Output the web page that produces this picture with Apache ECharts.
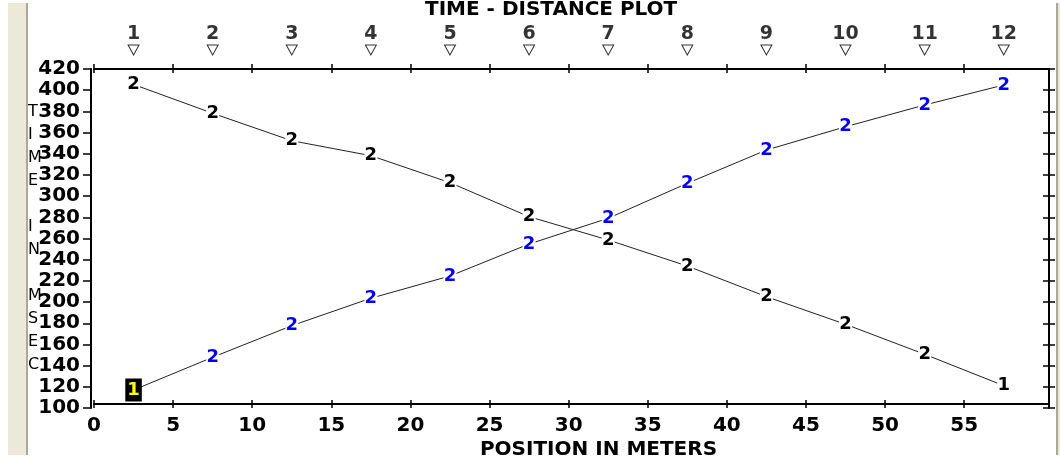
<!DOCTYPE html>
<html>
<head>
<meta charset="utf-8">
<script src="https://cdn.jsdelivr.net/npm/echarts@6/dist/echarts.min.js"></script>
<style>
  html, body { margin: 0; background: #fff; }
  #chart { width: 1060px; height: 466px; }
</style>
</head>
<body>
<div id="chart"></div>
<script>
// 测点位置 (m)
var positions = [2.5, 7.5, 12.5, 17.5, 22.5, 27.5, 32.5, 37.5, 42.5, 47.5, 52.5, 57.5];
// 顶部测点编号
var stations = ["1", "2", "3", "4", "5", "6", "7", "8", "9", "10", "11", "12"];
// X 轴刻度
var xTicks = [0, 5, 10, 15, 20, 25, 30, 35, 40, 45, 50, 55];
// 正向激发 (蓝色) 时间 msec
var forwardTimes = [117.0, 147.9, 177.7, 203.6, 224.6, 254.8, 279.1, 312.1, 343.5, 365.5, 386.0, 404.9];
var forwardMarks = ["1", "2", "2", "2", "2", "2", "2", "2", "2", "2", "2", "2"];
// 反向激发 (黑色) 时间 msec
var reverseTimes = [405.4, 378.2, 352.3, 338.2, 312.7, 280.6, 258.6, 234.0, 205.1, 179.0, 150.7, 121.1];
var reverseMarks = ["2", "2", "2", "2", "2", "2", "2", "2", "2", "2", "2", "1"];

var FONT = "DejaVu Sans";
var X_MAX = 60.36;

function buildPoints(times, marks, color, boxFirst) {
  return times.map(function (t, i) {
    var item = {
      value: [positions[i], t],
      label: { formatter: marks[i], color: marks[i] === "1" ? "#000" : color },
    };
    if (boxFirst && i === 0) {
      item.label = {
        formatter: marks[i],
        color: "#ffff00",
        backgroundColor: "#000",
        padding: [3, 2, 2, 2],
      };
    }
    return item;
  });
}

var myChart = echarts.init(document.getElementById("chart"));

var lineSeries = function (times, marks, color, boxFirst) {
  return {
    type: "line",
    xAxisIndex: 0,
    yAxisIndex: 0,
    data: buildPoints(times, marks, color, boxFirst),
    symbol: "rect",
    symbolSize: [13, 15],
    itemStyle: { color: "#fff" },
    lineStyle: { color: "#222", width: 1 },
    label: {
      show: true,
      position: "inside",
      fontFamily: FONT,
      fontWeight: "bold",
      fontSize: 18,
    },
    emphasis: { disabled: true },
    z: 3,
  };
};

// 坐标轴刻度 (内外两侧)
var tickAxisX = function (pos, inside, len, withLine) {
  return {
    type: "value",
    gridIndex: 0,
    position: pos,
    offset: pos === "bottom" ? -4 : 0,
    min: 0,
    max: X_MAX,
    interval: 5,
    splitLine: { show: false },
    axisLine: { show: withLine, onZero: false, lineStyle: { color: "#000", width: 2 } },
    axisTick: { inside: inside, length: len, customValues: xTicks, lineStyle: { color: "#000", width: 1.5 } },
    axisLabel: { show: false },
  };
};

var option = {
  animation: false,
  backgroundColor: "#fff",
  title: {
    text: "TIME - DISTANCE PLOT",
    left: 425,
    top: 0,
    padding: 0,
    textStyle: { fontFamily: FONT, fontWeight: "bold", fontSize: 20, color: "#000" },
  },
  graphic: [
    { type: "rect", shape: { x: 8, y: 3, width: 18, height: 452 }, style: { fill: "#ece9d8" }, z: 0 },
    { type: "rect", shape: { x: 26, y: 3, width: 2, height: 452 }, style: { fill: "#aca899" }, z: 0 },
    { type: "rect", shape: { x: 1056, y: 3, width: 2, height: 452 }, style: { fill: "#aca899" }, z: 0 },
    { type: "rect", shape: { x: 1058, y: 3, width: 2, height: 452 }, style: { fill: "#ece9d8" }, z: 0 },
    { type: "rect", shape: { x: 0, y: 456, width: 1060, height: 10 }, style: { fill: "#fff" }, z: 100 },
  ],
  grid: [
    { left: 94, right: 11, top: 69, height: 339 },
    { left: 94, right: 11, top: 44, height: 12 },
  ],
  xAxis: [
    {
      type: "value",
      gridIndex: 0,
      position: "bottom",
      offset: -4,
      min: 0,
      max: X_MAX,
      interval: 5,
      splitLine: { show: false },
      axisLine: { onZero: false, lineStyle: { color: "#000", width: 2 } },
      axisTick: { length: 4, customValues: xTicks, lineStyle: { color: "#000", width: 1.5 } },
      axisLabel: {
        customValues: xTicks,
        margin: 12,
        color: "#000",
        fontFamily: FONT,
        fontWeight: "bold",
        fontSize: 20,
      },
      name: "POSITION IN METERS",
      nameLocation: "middle",
      nameGap: 36,
      nameMoveOverlap: false,
      nameTextStyle: {
        color: "#000",
        fontFamily: FONT,
        fontWeight: "bold",
        fontSize: 20,
        padding: [0, 0, 0, 54],
      },
    },
    tickAxisX("bottom", true, 4, false),
    tickAxisX("top", false, 5, true),
    tickAxisX("top", true, 4, false),
    { type: "value", gridIndex: 1, min: 0, max: X_MAX, show: false },
  ],
  yAxis: [
    {
      type: "value",
      gridIndex: 0,
      position: "left",
      offset: 3,
      min: 100,
      max: 420,
      interval: 20,
      splitLine: { show: false },
      axisLine: { show: true, onZero: false, lineStyle: { color: "#000", width: 2 } },
      axisTick: { show: true, length: 8, lineStyle: { color: "#000", width: 1.5 } },
      axisLabel: {
        margin: 11,
        color: "#000",
        fontFamily: FONT,
        fontWeight: "bold",
        fontSize: 20,
      },
      name: "T\nI\nM\nE\n\nI\nN\n\nM\nS\nE\nC",
      nameLocation: "middle",
      nameRotate: 0,
      nameGap: 63,
      nameMoveOverlap: false,
      nameTextStyle: {
        color: "#000",
        fontFamily: FONT,
        fontSize: 16,
        lineHeight: 23,
        align: "left",
      },
    },
    {
      type: "value",
      gridIndex: 0,
      position: "right",
      min: 100,
      max: 420,
      interval: 20,
      splitLine: { show: false },
      axisLine: { show: true, onZero: false, lineStyle: { color: "#000", width: 2 } },
      axisTick: { show: true, length: 6, lineStyle: { color: "#000", width: 1.5 } },
      axisLabel: { show: false },
    },
    {
      type: "value",
      gridIndex: 0,
      position: "right",
      min: 100,
      max: 420,
      interval: 20,
      splitLine: { show: false },
      axisLine: { show: false, onZero: false },
      axisTick: { show: true, inside: true, length: 6, lineStyle: { color: "#000", width: 1.5 } },
      axisLabel: { show: false },
    },
    { type: "value", gridIndex: 1, min: -1, max: 1, show: false },
  ],
  series: [
    lineSeries(reverseTimes, reverseMarks, "#000", false),
    lineSeries(forwardTimes, forwardMarks, "#0000ff", true),
    {
      // 顶部测点标记
      type: "scatter",
      xAxisIndex: 4,
      yAxisIndex: 3,
      data: positions.map(function (p) { return [p, 0]; }),
      symbol: "triangle",
      symbolRotate: 180,
      symbolSize: [11, 10],
      itemStyle: { color: "#fff", borderColor: "#000", borderWidth: 1 },
      label: {
        show: true,
        position: "top",
        distance: 1,
        formatter: function (p) { return stations[p.dataIndex]; },
        color: "#000",
        fontFamily: FONT,
        fontWeight: "bold",
        fontSize: 19,
      },
      emphasis: { disabled: true },
      silent: true,
    },
  ],
};

option && myChart.setOption(option);
</script>
</body>
</html>
